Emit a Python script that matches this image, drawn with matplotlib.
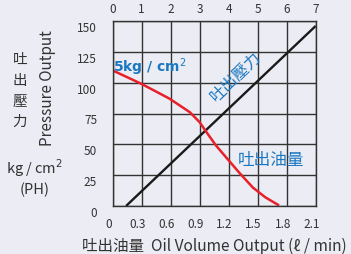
import matplotlib
matplotlib.use("Agg")
import matplotlib.pyplot as plt
import matplotlib.transforms as mtrans

plt.rcParams['font.family'] = ['Noto Sans CJK TC', 'DejaVu Sans']

# data
flow_x = [0, 0.3, 0.59, 0.8, 0.9, 0.97, 1.07, 1.19, 1.31, 1.45, 1.58, 1.71]
flow_y = [110, 99, 87, 76, 68, 60, 49, 38, 27, 15, 7, 1]
press_x = [0.14, 2.1]
press_y = [0, 146]

y_ticks = [0, 25, 50, 75, 100, 125, 150]
x_ticks = [0, 0.3, 0.6, 0.9, 1.2, 1.5, 1.8, 2.1]
x_labels = ['0', '0.3', '0.6', '0.9', '1.2', '1.5', '1.8', '2.1']
top_ticks = [0, 1, 2, 3, 4, 5, 6, 7]

bg = '#ececf4'
blue = '#1a78c2'
red = '#e8202a'
txt = '#333333'

W, H = 351, 255
fig = plt.figure(figsize=(W / 100, H / 100), dpi=100, facecolor=bg)
ax = fig.add_axes([112.5 / W, 48 / H, 203.2 / W, 185 / H], facecolor=bg)

ax.set_xlim(0, 2.1)
ax.set_ylim(0, 150)
ax.set_xticks(x_ticks)
ax.set_xticklabels(x_labels)
ax.set_yticks(y_ticks)
ax.grid(True, color='#333333', lw=1)
ax.set_axisbelow(True)
for s in ax.spines.values():
    s.set_color('#333333')
    s.set_linewidth(1)
ax.tick_params(length=0, labelsize=8.5, labelcolor=txt)
ax.tick_params(axis='y', pad=11)
ax.tick_params(axis='x', pad=8)

# labels sit a bit below / left of their grid lines
dy = mtrans.ScaledTranslation(0, -5 / 100, fig.dpi_scale_trans)
for lab in ax.get_yticklabels():
    lab.set_transform(lab.get_transform() + dy)
dx = mtrans.ScaledTranslation(-4 / 100, 0, fig.dpi_scale_trans)
for lab in ax.get_xticklabels():
    lab.set_transform(lab.get_transform() + dx)

top = ax.twiny()
top.set_xlim(0, 7)
top.set_xticks(top_ticks)
top.tick_params(length=0, labelsize=8.5, labelcolor=txt, pad=4)
for s in top.spines.values():
    s.set_visible(False)

ax.plot(press_x, press_y, color='#1a1a1a', lw=1.7, solid_capstyle='butt')
ax.plot(flow_x, flow_y, color=red, lw=1.8)

ax.text(0.01, 113, '5kg / cm$^2$', color=blue, fontsize=10, fontweight='bold',
        ha='left', va='center', family=['DejaVu Sans'])
ax.text(1.28, 106, '吐出壓力', color=blue, fontsize=11.5, rotation=44,
        ha='center', va='center')
ax.text(1.64, 38, '吐出油量', color=blue, fontsize=12, ha='center', va='center')

# left side labels
for ch, yy in zip('吐出壓力', [60, 80.5, 101.5, 121.5]):
    fig.text(20 / W, 1 - yy / H, ch, color=txt, fontsize=10.5, ha='center', va='center')
fig.text(48 / W, 1 - 88 / H, 'Pressure Output', color=txt, fontsize=11,
         rotation=90, ha='center', va='center')
fig.text(35 / W, 1 - 168 / H, 'kg / cm$^2$', color=txt, fontsize=10.5, ha='center', va='center')
fig.text(35 / W, 1 - 190 / H, '(PH)', color=txt, fontsize=10.5, ha='center', va='center')

fig.text(214 / W, 1 - 246 / H, '吐出油量  Oil Volume Output (ℓ / min)', color=txt,
         fontsize=11.2, ha='center', va='center')

fig.savefig('out.png', dpi=100, facecolor=bg)
